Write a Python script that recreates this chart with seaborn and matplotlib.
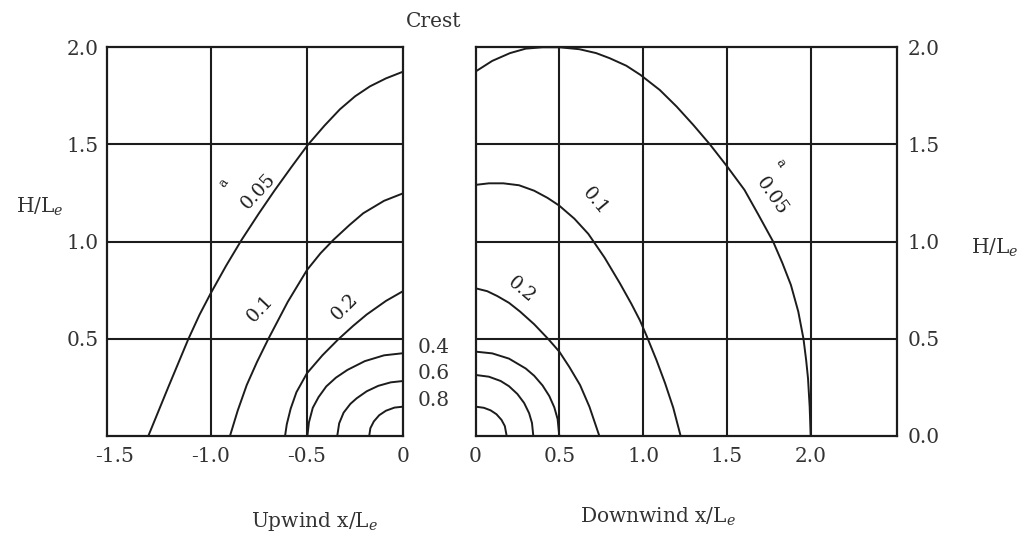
import matplotlib
matplotlib.use("Agg")
import matplotlib.pyplot as plt
import pandas as pd
import seaborn as sns

# ---- 数据：等值线（上风侧 / 下风侧）----
levels = ["0.05", "0.1", "0.2", "0.4", "0.6", "0.8"]

up_x_005 = [-1.324, -1.22, -1.116, -1.058, -1.0, -0.92, -0.839, -0.75, -0.67, -0.58, -0.498,
            -0.41, -0.329, -0.25, -0.173, -0.09, 0.0]
up_y_005 = [0.0, 0.252, 0.499, 0.624, 0.734, 0.876, 1.010, 1.145, 1.261, 1.385, 1.495,
            1.596, 1.681, 1.748, 1.799, 1.840, 1.875]
up_x_01 = [-0.900, -0.86, -0.813, -0.76, -0.701, -0.60, -0.5, -0.43, -0.363, -0.28, -0.208, -0.10, 0.0]
up_y_01 = [0.0, 0.13, 0.262, 0.38, 0.499, 0.69, 0.854, 0.94, 1.009, 1.085, 1.146, 1.21, 1.249]
up_x_02 = [-0.614, -0.605, -0.585, -0.555, -0.5, -0.42, -0.338, -0.26, -0.19, -0.09, 0.0]
up_y_02 = [0.0, 0.06, 0.14, 0.225, 0.323, 0.415, 0.497, 0.567, 0.625, 0.695, 0.746]
up_x_04 = [-0.498, -0.49, -0.47, -0.44, -0.40, -0.35, -0.29, -0.2, -0.1, 0.0]
up_y_04 = [0.0, 0.07, 0.145, 0.2, 0.255, 0.30, 0.34, 0.385, 0.415, 0.426]
up_x_06 = [-0.343, -0.333, -0.31, -0.275, -0.242, -0.19, -0.13, -0.065, 0.0]
up_y_06 = [0.0, 0.065, 0.12, 0.165, 0.194, 0.23, 0.258, 0.276, 0.283]
up_x_08 = [-0.177, -0.171, -0.153, -0.125, -0.09, -0.046, 0.0]
up_y_08 = [0.0, 0.04, 0.075, 0.107, 0.13, 0.146, 0.151]

dn_x_005 = [0.0, 0.1, 0.206, 0.30, 0.40, 0.50, 0.62, 0.72, 0.80, 0.90, 0.984, 1.10, 1.20, 1.30,
            1.399, 1.503, 1.605, 1.687, 1.776, 1.831, 1.882, 1.926, 1.957, 1.973, 1.984, 1.994, 2.0]
dn_y_005 = [1.875, 1.93, 1.97, 1.993, 2.0, 2.0, 1.99, 1.97, 1.944, 1.905, 1.858, 1.78, 1.695, 1.60,
            1.5, 1.385, 1.266, 1.14, 1.0, 0.89, 0.777, 0.64, 0.5, 0.39, 0.297, 0.15, 0.0]
dn_x_01 = [0.0, 0.08, 0.166, 0.26, 0.35, 0.43, 0.5, 0.59, 0.673, 0.77, 0.862, 0.93, 0.981,
           1.021, 1.08, 1.131, 1.18, 1.224]
dn_y_01 = [1.292, 1.30, 1.30, 1.29, 1.262, 1.225, 1.185, 1.118, 1.040, 0.918, 0.785, 0.68, 0.595,
           0.515, 0.39, 0.272, 0.145, 0.0]
dn_x_02 = [0.0, 0.07, 0.13, 0.20, 0.266, 0.35, 0.434, 0.5, 0.56, 0.624, 0.68, 0.739]
dn_y_02 = [0.760, 0.745, 0.72, 0.685, 0.640, 0.575, 0.499, 0.434, 0.355, 0.262, 0.15, 0.0]
dn_x_04 = [0.0, 0.1, 0.2, 0.3, 0.35, 0.4, 0.44, 0.47, 0.49, 0.5]
dn_y_04 = [0.434, 0.425, 0.398, 0.347, 0.31, 0.26, 0.206, 0.148, 0.087, 0.0]
dn_x_06 = [0.0, 0.08, 0.15, 0.2, 0.25, 0.29, 0.32, 0.337, 0.345]
dn_y_06 = [0.314, 0.305, 0.283, 0.256, 0.216, 0.17, 0.117, 0.067, 0.0]
dn_x_08 = [0.0, 0.05, 0.09, 0.125, 0.155, 0.175, 0.186]
dn_y_08 = [0.151, 0.145, 0.132, 0.112, 0.083, 0.051, 0.0]

up_xticks = [-1.5, -1.0, -0.5, 0.0]
up_xlabels = ["-1.5", "-1.0", "-0.5", "0"]
up_yticks = [0.5, 1.0, 1.5, 2.0]
up_ylabels = ["0.5", "1.0", "1.5", "2.0"]
dn_xticks = [0.0, 0.5, 1.0, 1.5, 2.0]
dn_xlabels = ["0", "0.5", "1.0", "1.5", "2.0"]
dn_yticks = [0.0, 0.5, 1.0, 1.5, 2.0]
dn_ylabels = ["0.0", "0.5", "1.0", "1.5", "2.0"]


def make_frame(xs, ys):
    rows = []
    for lev, x, y in zip(levels, xs, ys):
        for i, (a, b) in enumerate(zip(x, y)):
            rows.append({"level": lev, "i": i, "x": a, "y": b})
    return pd.DataFrame(rows)


up_df = make_frame([up_x_005, up_x_01, up_x_02, up_x_04, up_x_06, up_x_08],
                   [up_y_005, up_y_01, up_y_02, up_y_04, up_y_06, up_y_08])
dn_df = make_frame([dn_x_005, dn_x_01, dn_x_02, dn_x_04, dn_x_06, dn_x_08],
                   [dn_y_005, dn_y_01, dn_y_02, dn_y_04, dn_y_06, dn_y_08])

# ---- 样式 ----
sns.set_theme(style="white")
plt.rcParams['font.family'] = ['DejaVu Serif']
plt.rcParams['mathtext.fontset'] = 'dejavuserif'
plt.rcParams['axes.unicode_minus'] = False

INK = "#1c1c1c"
TXT = "#333333"
FS = 14.5

fig = plt.figure(figsize=(10.27, 5.36), dpi=100)
ax1 = fig.add_axes([0.1039, 0.1866, 0.2888, 0.7252])
ax2 = fig.add_axes([0.4630, 0.1866, 0.4109, 0.7252])


def style_axis(ax, xlim, gx, gy):
    ax.set_xlim(*xlim)
    ax.set_ylim(0, 2.0)
    for v in gx:
        ax.axvline(v, color=INK, lw=1.5, zorder=1)
    for v in gy:
        ax.axhline(v, color=INK, lw=1.5, zorder=1)
    for sp in ax.spines.values():
        sp.set_color(INK)
        sp.set_linewidth(1.6)
    ax.tick_params(length=0, labelsize=FS, colors=TXT)
    ax.set_xlabel("")
    ax.set_ylabel("")


# 上风侧
sns.lineplot(data=up_df, x="x", y="y", units="level", estimator=None, sort=False,
             color=INK, lw=1.4, ax=ax1, legend=False, solid_joinstyle="round")
style_axis(ax1, (-1.54, 0.0), [-1.0, -0.5], [0.5, 1.0, 1.5])
ax1.set_xticks(up_xticks, up_xlabels)
ax1.set_yticks(up_yticks, up_ylabels)
ax1.tick_params(axis="x", pad=8)
ax1.tick_params(axis="y", pad=6)

ax1.text(-0.935, 1.30, "a", fontsize=9, rotation=55, ha="center", va="center", color=INK)
ax1.text(-0.753, 1.257, "0.05", fontsize=13.5, rotation=47, ha="center", va="center", color=INK)
ax1.text(-0.744, 0.654, "0.1", fontsize=13.5, rotation=47, ha="center", va="center", color=INK)
ax1.text(-0.303, 0.666, "0.2", fontsize=13.5, rotation=45, ha="center", va="center", color=INK)
for lab, yy in zip(["0.4", "0.6", "0.8"], [0.456, 0.322, 0.185]):
    ax1.text(0.076, yy, lab, fontsize=FS, ha="left", va="center", color=TXT, clip_on=False)

# 下风侧
sns.lineplot(data=dn_df, x="x", y="y", units="level", estimator=None, sort=False,
             color=INK, lw=1.4, ax=ax2, legend=False, solid_joinstyle="round")
style_axis(ax2, (0.0, 2.518), [0.5, 1.0, 1.5, 2.0], [0.5, 1.0, 1.5])
ax2.set_xticks(dn_xticks, dn_xlabels)
ax2.set_yticks(dn_yticks, dn_ylabels)
ax2.yaxis.tick_right()
ax2.tick_params(axis="x", pad=8)
ax2.tick_params(axis="y", pad=7)

ax2.text(0.713, 1.206, "0.1", fontsize=13.5, rotation=-50, ha="center", va="center", color=INK)
ax2.text(1.817, 1.403, "a", fontsize=9, rotation=-55, ha="center", va="center", color=INK)
ax2.text(1.767, 1.232, "0.05", fontsize=13.5, rotation=-55, ha="center", va="center", color=INK)
ax2.text(0.276, 0.751, "0.2", fontsize=13.5, rotation=-40, ha="center", va="center", color=INK)

# 标题与轴标签
fig.text(0.422, 0.9595, "Crest", fontsize=FS, ha="center", va="center", color=TXT)
fig.text(0.039, 0.614, r"H/L$_e$", fontsize=FS, ha="center", va="center", color=TXT)
fig.text(0.969, 0.537, r"H/L$_e$", fontsize=FS, ha="center", va="center", color=TXT)
fig.text(0.306, 0.027, r"Upwind x/L$_e$", fontsize=FS, ha="center", va="center", color=TXT)
fig.text(0.641, 0.035, r"Downwind x/L$_e$", fontsize=FS, ha="center", va="center", color=TXT)

fig.savefig("out.png", dpi=100, facecolor="white")
